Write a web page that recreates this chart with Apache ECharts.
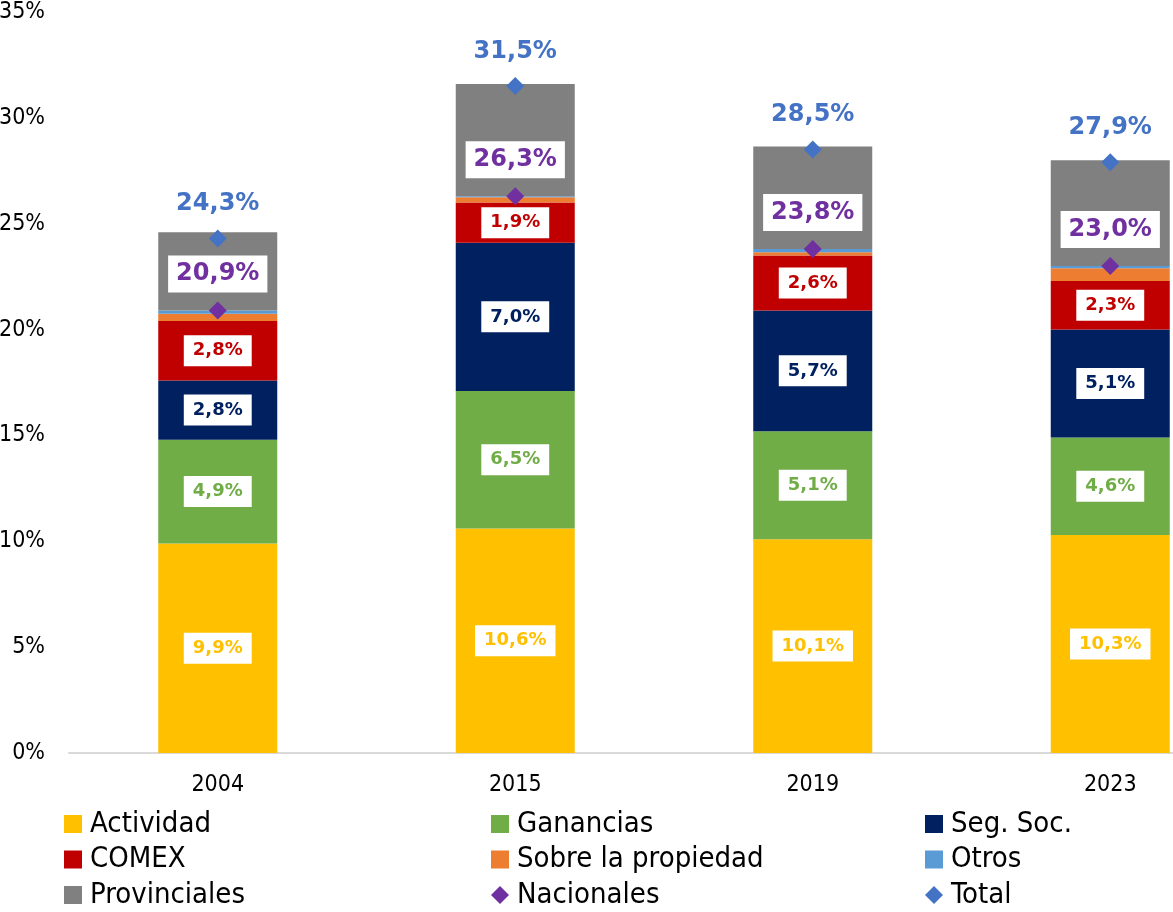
<!DOCTYPE html>
<html>
<head>
<meta charset="utf-8">
<script src="https://cdn.jsdelivr.net/npm/echarts@6/dist/echarts.min.js"></script>
<style>
html,body{margin:0;padding:0;background:#fff;}
#chart{width:1173px;height:912px;}
</style>
</head>
<body>
<div id="chart"></div>
<script>
const years = ['2004', '2015', '2019', '2023'];
const actividad = [9.9, 10.6, 10.1, 10.3];
const ganancias = [4.9, 6.5, 5.1, 4.6];
const segSoc = [2.8, 7.0, 5.7, 5.1];
const comex = [2.8, 1.9, 2.6, 2.3];
const propiedad = [0.35, 0.25, 0.15, 0.6];
const otros = [0.15, 0.05, 0.15, 0.1];
const provinciales = [3.7, 5.3, 4.85, 5.0];
const nacionales = [20.9, 26.3, 23.8, 23.0];
const total = [24.3, 31.5, 28.5, 27.9];
const yTicks = { min: 0, max: 35, interval: 5 };

const REG = "'DejaVu Sans Condensed', 'Liberation Sans', sans-serif";
const BOLD = "'DejaVu Sans', sans-serif";
const fmt = v => v.toFixed(1).replace('.', ',') + '%';

function segLabel(color) {
  return {
    show: true, position: 'inside',
    formatter: p => fmt(p.value),
    color: color, fontFamily: BOLD, fontWeight: 'bold', fontSize: 18,
    backgroundColor: '#fff', padding: [6, 9], lineHeight: 19
  };
}
function bar(name, data, color, lbl) {
  return {
    name, type: 'bar', stack: 'all', data, barWidth: '40%',
    itemStyle: { color },
    label: lbl ? segLabel(color) : { show: false },
    emphasis: { disabled: true }
  };
}

const chart = echarts.init(document.getElementById('chart'), null, { renderer: 'canvas' });
const legendText = { fontFamily: REG, fontSize: 29, color: '#000', lineHeight: 30, padding: [0, 0, 0, 3] };
const sq = n => ({ name: n, icon: 'rect' });
const dm = n => ({ name: n, icon: 'diamond' });
function legend(left, items) {
  return {
    orient: 'vertical', left, top: 809, height: 140, padding: 0, itemWidth: 18, itemHeight: 18, itemGap: 5.5,
    textStyle: legendText, data: items, selectedMode: false
  };
}
chart.setOption({
  animation: false,
  backgroundColor: '#fff',
  grid: { left: 69, width: 1190, top: 12, height: 741, containLabel: false, outerBoundsMode: 'none' },
  legend: [
    legend(64, [sq('Actividad'), sq('COMEX'), sq('Provinciales')]),
    legend(491, [sq('Ganancias'), sq('Sobre la propiedad'), dm('Nacionales')]),
    legend(925, [sq('Seg. Soc.'), sq('Otros'), dm('Total')])
  ],
  xAxis: {
    type: 'category', data: years,
    axisLine: { lineStyle: { color: '#d9d9d9', width: 2 } },
    axisTick: { show: false },
    axisLabel: { fontFamily: REG, fontSize: 23, color: '#000', margin: 21 }
  },
  yAxis: {
    type: 'value', min: yTicks.min, max: yTicks.max, interval: yTicks.interval,
    axisLine: { show: false }, axisTick: { show: false },
    splitLine: { show: false },
    axisLabel: { formatter: '{value}%', fontFamily: REG, fontSize: 23, color: '#000', margin: 24 }
  },
  series: [
    bar('Actividad', actividad, '#FFC000', true),
    bar('Ganancias', ganancias, '#70AD47', true),
    bar('Seg. Soc.', segSoc, '#002060', true),
    bar('COMEX', comex, '#C00000', true),
    bar('Sobre la propiedad', propiedad, '#ED7D31', false),
    bar('Otros', otros, '#5B9BD5', false),
    bar('Provinciales', provinciales, '#808080', false),
    {
      name: 'Nacionales', type: 'scatter', data: nacionales, symbol: 'diamond', symbolSize: 18, z: 5,
      itemStyle: { color: '#7030A0', opacity: 1 },
      label: {
        show: true, position: 'top', distance: 9, formatter: p => fmt(p.value),
        color: '#7030A0', fontFamily: BOLD, fontWeight: 'bold', fontSize: 24,
        backgroundColor: '#fff', padding: [6, 8], lineHeight: 25
      },
      emphasis: { disabled: true }
    },
    {
      name: 'Total', type: 'scatter', data: total, symbol: 'diamond', symbolSize: 18, z: 5,
      itemStyle: { color: '#4472C4', opacity: 1 },
      label: {
        show: true, position: 'top', distance: 13, formatter: p => fmt(p.value),
        color: '#4472C4', fontFamily: BOLD, fontWeight: 'bold', fontSize: 24, lineHeight: 25
      },
      emphasis: { disabled: true }
    }
  ]
});
</script>
</body>
</html>
